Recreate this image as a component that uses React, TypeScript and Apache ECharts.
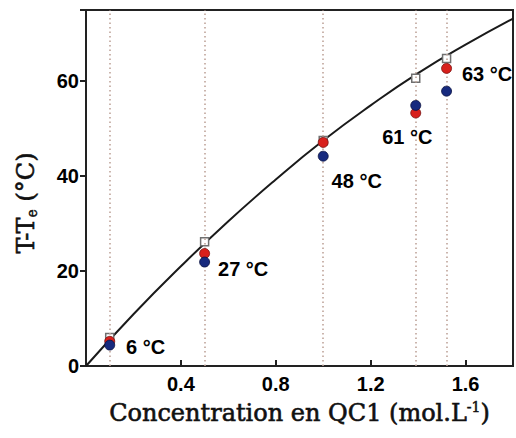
import React, { useEffect, useRef } from "react";
import * as echarts from "echarts";

const conc = [0.1, 0.5, 1.0, 1.39, 1.52];
const fitValues = [6.0, 26.2, 47.5, 60.6, 64.8];
const redValues = [5.2, 23.7, 47.1, 53.3, 62.7];
const blueValues = [4.4, 21.9, 44.2, 54.9, 57.9];
const tempLabels = ["6 °C", "27 °C", "48 °C", "61 °C", "63 °C"];
const labelOffsets = [[6, 2], [3, 7], [-2, 25], [-44, 32], [5, -17]];

const curveX = [0, 0.2, 0.4, 0.6, 0.8, 1.0, 1.2, 1.4, 1.6, 1.8];
const curveY = [0, 10.9, 21.0, 30.5, 39.3, 47.5, 54.9, 61.7, 67.7, 73.2];

export default function App() {
  const ref = useRef<HTMLDivElement>(null);
  useEffect(() => {
    const chart = echarts.init(ref.current!, null, { renderer: "svg" });
    const tickFont = {
      fontFamily: "Liberation Sans, Arial, sans-serif",
      fontWeight: "bold" as const,
      fontSize: 20,
      color: "#000",
    };
    const titleFont = "DejaVu Serif, serif";
    chart.setOption({
      animation: false,
      backgroundColor: "#fff",
      grid: {
        left: 86,
        right: 2,
        top: 10,
        bottom: 72,
        show: true,
        borderColor: "#222",
        borderWidth: 2,
        backgroundColor: "transparent",
      },
      xAxis: {
        type: "value",
        min: 0,
        max: 1.8,
        interval: 0.4,
        splitLine: { show: false },
        axisLine: { show: true, onZero: false, lineStyle: { color: "#222", width: 2 } },
        axisTick: { show: true, inside: true, length: 6, lineStyle: { color: "#222", width: 2 } },
        axisLabel: {
          ...tickFont,
          margin: 8,
          formatter: (v: number) => (v === 0 || v > 1.7 ? "" : v.toFixed(1)),
        },
        name: "Concentration en QC1 (mol.L{sup|-1})",
        nameLocation: "middle",
        nameGap: 34,
        nameTextStyle: {
          fontFamily: titleFont,
          fontSize: 24,
          color: "#111",
          textBorderColor: "#111",
          textBorderWidth: 0.6,
          rich: {
            sup: {
              fontFamily: titleFont,
              fontSize: 14,
              verticalAlign: "top",
              padding: [0, 0, 12, 0],
              color: "#111",
              textBorderColor: "#111",
              textBorderWidth: 0.5,
            },
          },
        },
      },
      yAxis: {
        type: "value",
        min: 0,
        max: 75,
        interval: 20,
        splitLine: { show: false },
        axisLine: { show: true, lineStyle: { color: "#222", width: 2 } },
        axisTick: { show: true, inside: false, length: 6, lineStyle: { color: "#222", width: 2 } },
        axisLabel: {
          ...tickFont,
          margin: 7,
          formatter: (v: number) => (v > 70 ? "" : String(v)),
        },
      },
      graphic: [
        {
          type: "text",
          x: 26,
          y: 203,
          rotation: Math.PI / 2,
          style: {
            text: "T-T{sub|e} (°C)",
            fontFamily: titleFont,
            fontSize: 24,
            fill: "#111",
            stroke: "#111",
            lineWidth: 0.6,
            align: "center",
            verticalAlign: "middle",
            rich: {
              sub: {
                fontFamily: titleFont,
                fontSize: 14,
                padding: [12, 0, 0, 0],
                fill: "#111",
                stroke: "#111",
                lineWidth: 0.5,
              },
            },
          },
        },
      ],
      series: [
        {
          type: "line",
          data: curveX.map((x, i) => [x, curveY[i]]),
          smooth: true,
          showSymbol: false,
          lineStyle: { color: "#1a1a1a", width: 2 },
          z: 3,
          markLine: {
            silent: true,
            symbol: "none",
            label: { show: false },
            lineStyle: { color: "#bfa49a", width: 1.6, type: [1.5, 3] },
            data: conc.map((x) => ({ xAxis: x })),
          },
        },
        {
          type: "scatter",
          data: conc.map((x, i) => [x, fitValues[i]]),
          symbol: "rect",
          symbolSize: 8,
          itemStyle: { color: "#fff", borderColor: "#707070", borderWidth: 1.5, opacity: 1 },
          z: 4,
        },
        {
          type: "scatter",
          data: conc.map((x, i) => [x, redValues[i]]),
          symbol: "circle",
          symbolSize: 10,
          itemStyle: { color: "#d8201c", borderColor: "#7a1210", borderWidth: 0.8, opacity: 1 },
          z: 5,
        },
        {
          type: "scatter",
          data: conc.map((x, i) => ({
            value: [x, blueValues[i]],
            label: {
              show: true,
              position: "right",
              offset: labelOffsets[i],
              formatter: tempLabels[i],
              ...tickFont,
            },
          })),
          symbol: "circle",
          symbolSize: 10,
          itemStyle: { color: "#172a7e", borderColor: "#0a1240", borderWidth: 0.8, opacity: 1 },
          z: 6,
        },
      ],
    });
    return () => chart.dispose();
  }, []);
  return <div ref={ref} style={{ width: 516, height: 438, position: "absolute", left: 0, top: 0 }} />;
}
